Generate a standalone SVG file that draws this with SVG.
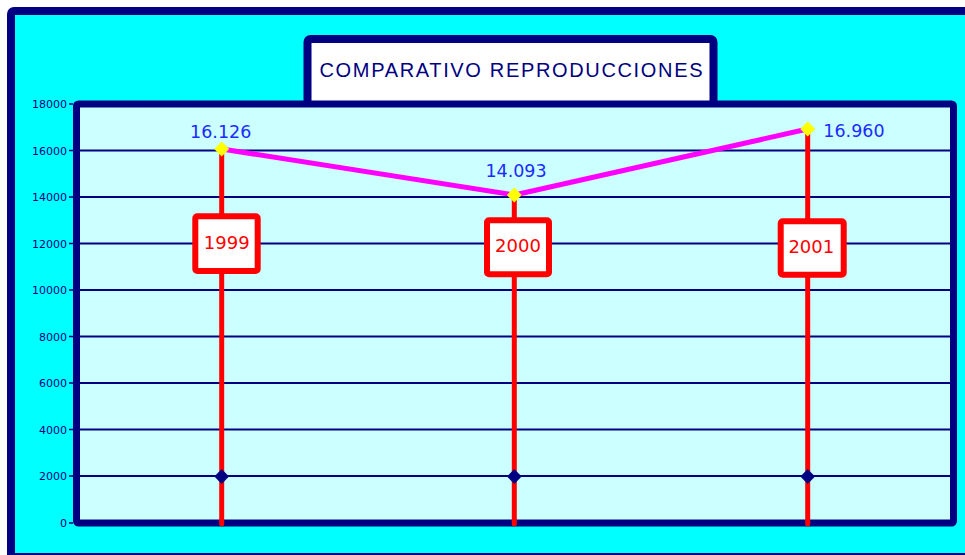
<svg xmlns="http://www.w3.org/2000/svg" width="965" height="555" viewBox="0 0 965 555">
<style>
.grid{stroke:#000080;stroke-width:2.2;fill:none}
.tick{font-family:"DejaVu Sans",Verdana,sans-serif;font-size:11px;fill:#000080;text-anchor:end}
.stem{stroke:#FF0000;stroke-width:5;stroke-linecap:round;fill:none}
.ybox{fill:#FFFFFF;stroke:#FF0000;stroke-width:6}
.ytxt{font-family:"DejaVu Sans",Verdana,sans-serif;font-size:18px;fill:#FF0000;text-anchor:middle}
.val{font-family:"DejaVu Sans",Verdana,sans-serif;font-size:17.5px;fill:#1a2cff}
.pt{fill:#FFFF00}
.base{fill:#000080}
</style>
<rect width="965" height="555" fill="#FFFFFF"/>
<g id="frame">
<rect x="11" y="11" width="970" height="546" rx="3" fill="#00FFFF" stroke="#000080" stroke-width="8"/>
</g>
<g id="title">
<rect x="307.5" y="39" width="406" height="70" rx="3" fill="#FFFFFF" stroke="#000080" stroke-width="8"/>
<text x="511" y="77" font-family="'Liberation Sans',Arial,sans-serif" font-size="20" fill="#000080" text-anchor="middle" textLength="383" lengthAdjust="spacing">COMPARATIVO REPRODUCCIONES</text>
</g>
<g id="plot">
<rect x="76.5" y="104" width="877" height="419" rx="2" fill="#CCFFFF" stroke="#000080" stroke-width="7"/>
<line class="grid" x1="80" x2="950" y1="150.5" y2="150.5"/>
<line class="grid" x1="80" x2="950" y1="197" y2="197"/>
<line class="grid" x1="80" x2="950" y1="243.5" y2="243.5"/>
<line class="grid" x1="80" x2="950" y1="290" y2="290"/>
<line class="grid" x1="80" x2="950" y1="336.5" y2="336.5"/>
<line class="grid" x1="80" x2="950" y1="383" y2="383"/>
<line class="grid" x1="80" x2="950" y1="429.5" y2="429.5"/>
<line class="grid" x1="80" x2="950" y1="476" y2="476"/>
</g>
<g id="axis">
<g stroke="#000080" stroke-width="1.5">
<line x1="69" x2="73" y1="104" y2="104"/><line x1="69" x2="73" y1="150.5" y2="150.5"/><line x1="69" x2="73" y1="197" y2="197"/><line x1="69" x2="73" y1="243.5" y2="243.5"/><line x1="69" x2="73" y1="290" y2="290"/><line x1="69" x2="73" y1="336.5" y2="336.5"/><line x1="69" x2="73" y1="383" y2="383"/><line x1="69" x2="73" y1="429.5" y2="429.5"/><line x1="69" x2="73" y1="476" y2="476"/><line x1="69" x2="73" y1="523" y2="523"/>
</g>
<text class="tick" x="67" y="108">18000</text>
<text class="tick" x="67" y="154.5">16000</text>
<text class="tick" x="67" y="201">14000</text>
<text class="tick" x="67" y="247.5">12000</text>
<text class="tick" x="67" y="294">10000</text>
<text class="tick" x="67" y="340.5">8000</text>
<text class="tick" x="67" y="387">6000</text>
<text class="tick" x="67" y="433.5">4000</text>
<text class="tick" x="67" y="480">2000</text>
<text class="tick" x="67" y="527">0</text>
</g>
<g id="stems">
<line class="stem" x1="221.7" y1="149" x2="221.7" y2="524"/>
<line class="stem" x1="514.3" y1="195" x2="514.3" y2="524"/>
<line class="stem" x1="807.7" y1="129" x2="807.7" y2="524"/>
<path class="base" d="M221.7 469 L229 476.5 L221.7 484 L214.4 476.5 Z"/>
<path class="base" d="M514.3 469 L521.6 476.5 L514.3 484 L507 476.5 Z"/>
<path class="base" d="M807.7 469 L815 476.5 L807.7 484 L800.4 476.5 Z"/>
</g>
<g id="connectors">
<polyline points="221.7,149 514.3,195 807.7,129" fill="none" stroke="#FF00FF" stroke-width="5" stroke-linejoin="round"/>
</g>
<g id="node-1999">
<path class="pt" d="M221.7 141.5 L229.2 149 L221.7 156.5 L214.2 149 Z"/>
<text class="val" x="220.7" y="138.3" text-anchor="middle">16.126</text>
<rect class="ybox" x="195.3" y="216.3" width="62.4" height="54.7" rx="2"/>
<text class="ytxt" x="226.7" y="248.5">1999</text>
</g>
<g id="node-2000">
<path class="pt" d="M514.3 187.5 L521.8 195 L514.3 202.5 L506.8 195 Z"/>
<text class="val" x="516" y="177.3" text-anchor="middle">14.093</text>
<rect class="ybox" x="487" y="220.3" width="62" height="54" rx="2"/>
<text class="ytxt" x="518" y="251.8">2000</text>
</g>
<g id="node-2001">
<path class="pt" d="M807.7 121.5 L815.2 129 L807.7 136.5 L800.2 129 Z"/>
<text class="val" x="823.3" y="137.3">16.960</text>
<rect class="ybox" x="780.7" y="221.3" width="63" height="53.4" rx="2"/>
<text class="ytxt" x="811.3" y="253.3">2001</text>
</g>
</svg>
